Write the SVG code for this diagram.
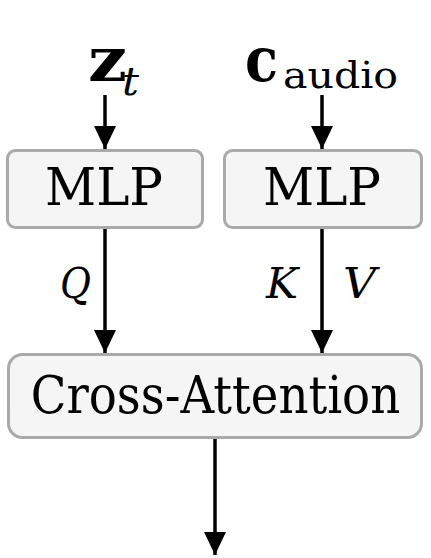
<svg xmlns="http://www.w3.org/2000/svg" width="431" height="558" viewBox="0 0 431 558">
<defs>
<marker id="ah" markerWidth="24" markerHeight="22" refX="23" refY="11" orient="auto" markerUnits="userSpaceOnUse">
<path d="M0,0 L23,11 L0,22 Z" fill="#000"/>
</marker>
<style>
.box{fill:#f5f5f5;stroke:#aaaaaa;stroke-width:3}
.lbl{font-family:'DejaVu Serif',serif;font-size:53px;fill:#000}
.m{font-family:'DejaVu Serif',serif;fill:#000}
.e{stroke:#000;stroke-width:3.5;fill:none;marker-end:url(#ah)}
</style>
</defs>
<rect width="431" height="558" fill="#fff"/>
<g id="connectors">
<line class="e" x1="105" y1="95" x2="105" y2="149"/>
<line class="e" x1="322" y1="95" x2="322" y2="149"/>
<line class="e" x1="105" y1="228" x2="105" y2="353"/>
<line class="e" x1="322" y1="228" x2="322" y2="353"/>
<line class="e" x1="215" y1="438" x2="215" y2="555"/>
<text class="m" x="60" y="298" font-size="43" font-style="italic" textLength="31" lengthAdjust="spacingAndGlyphs">Q</text>
<text class="m" x="266" y="298" font-size="43" font-style="italic" textLength="32" lengthAdjust="spacingAndGlyphs">K</text>
<text class="m" x="343" y="298" font-size="43" font-style="italic" textLength="33" lengthAdjust="spacingAndGlyphs">V</text>
</g>
<g id="z_t">
<text class="m" x="88" y="81" font-size="62" font-weight="bold" textLength="39" lengthAdjust="spacingAndGlyphs">z</text>
<text class="m" x="122" y="95" font-size="40" font-style="italic" textLength="17" lengthAdjust="spacingAndGlyphs">t</text>
</g>
<g id="c_audio">
<text class="m" x="245" y="81" font-size="62" font-weight="bold" textLength="33" lengthAdjust="spacingAndGlyphs">c</text>
<text class="m" x="283" y="88" font-size="37" textLength="115" lengthAdjust="spacingAndGlyphs">audio</text>
</g>
<g id="mlp1">
<rect class="box" x="7.5" y="150.5" width="195" height="77" rx="8"/>
<text class="lbl" x="45" y="205" textLength="118" lengthAdjust="spacingAndGlyphs">MLP</text>
</g>
<g id="mlp2">
<rect class="box" x="224.5" y="150.5" width="197" height="77" rx="8"/>
<text class="lbl" x="263" y="205" textLength="118" lengthAdjust="spacingAndGlyphs">MLP</text>
</g>
<g id="cross_attention">
<rect class="box" x="8.5" y="354.5" width="413" height="83" rx="14"/>
<text class="lbl" text-anchor="middle" transform="translate(215.5,413) scale(0.88,1)">Cross-Attention</text>
</g>
</svg>
